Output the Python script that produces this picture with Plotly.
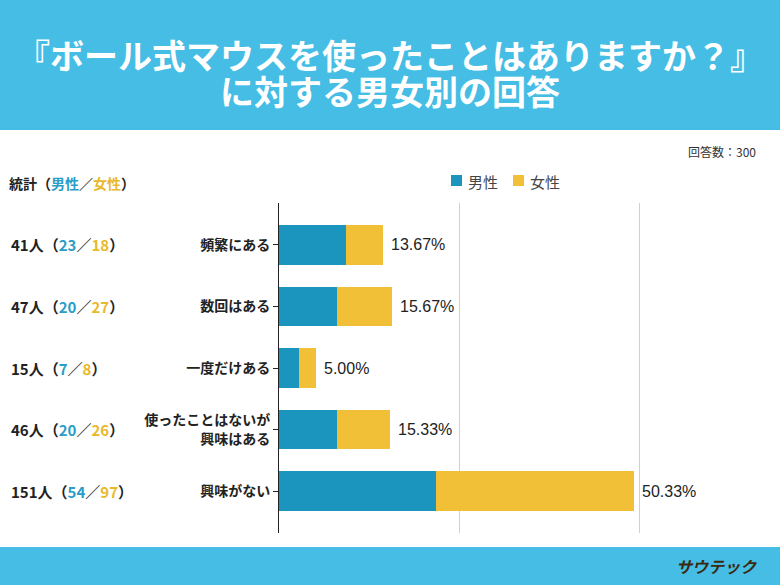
import plotly.graph_objects as go

# ---- data ----
categories = ["頻繁にある", "数回はある", "一度だけある", "使ったことはないが<br>興味はある", "興味がない"]
male_counts = [23, 20, 7, 20, 54]
female_counts = [18, 27, 8, 26, 97]
total_counts = [41, 47, 15, 46, 151]
total_labels = ["13.67%", "15.67%", "5.00%", "15.33%", "50.33%"]
respondents = 300
title_lines = ["『ボール式マウスを使ったことはありますか？』", "に対する男女別の回答"]

male_total = sum(male_counts)
female_total = sum(female_counts)
male_pct = [c / male_total * 100 for c in male_counts]
female_pct = [c / female_total * 100 for c in female_counts]

BLUE = "#1B95BD"
YELLOW = "#F2C036"
BAND = "#45BDE4"
JP = "Noto Sans CJK JP"

# pixel geometry helpers
W, H = 780, 585
L, R, T, B = 279, 20, 203, 52
PW, PH = W - L - R, H - T - B


def px_x(x):
    return (x - L) / PW


def px_y(y):
    return (H - B - y) / PH


fig = go.Figure()
fig.add_trace(go.Bar(y=categories, x=male_pct, name="男性", orientation="h",
                     marker=dict(color=BLUE, line=dict(width=0)), showlegend=False))
fig.add_trace(go.Bar(y=categories, x=female_pct, name="女性", orientation="h",
                     marker=dict(color=YELLOW, line=dict(width=0)), showlegend=False))

annotations = []
shapes = []

# percentage labels
for cat, m, f, lab in zip(categories, male_pct, female_pct, total_labels):
    annotations.append(dict(x=m + f, y=cat, xref="x", yref="y", text=lab, showarrow=False,
                            xanchor="left", xshift=6,
                            font=dict(family="Liberation Sans, Arial", size=16, color="#222")))

# stats column
for cat, t, m, f in zip(categories, total_counts, male_counts, female_counts):
    txt = (f"<b>{t}人（<span style='color:#2A9DC8'>{m}</span>／"
           f"<span style='color:#E9B92C'>{f}</span>）</b>")
    annotations.append(dict(x=px_x(9), y=cat, xref="paper", yref="y", text=txt, showarrow=False,
                            xanchor="left", font=dict(family=JP, size=15, color="#222")))

annotations.append(dict(x=px_x(7), y=px_y(183), xref="paper", yref="paper",
                        text="<b>統計（<span style='color:#2A9DC8'>男性</span>／"
                             "<span style='color:#E9B92C'>女性</span>）</b>",
                        showarrow=False, xanchor="left", yanchor="middle",
                        font=dict(family=JP, size=14, color="#222")))

# title (single text; line pitch from the 28px base font, glyphs at 34px)
title_txt = "<br>".join(f"<b><span style='font-size:34px'>{ln}</span></b>" for ln in title_lines)
annotations.append(dict(x=0.5, y=px_y(72), xref="paper", yref="paper", xanchor="center",
                        yanchor="middle", showarrow=False, xshift=(W / 2 - (L + PW / 2)),
                        text=title_txt, font=dict(family=JP, size=28, color="white")))

# respondents
annotations.append(dict(x=px_x(758), y=px_y(151), xref="paper", yref="paper", xanchor="right",
                        yanchor="middle", showarrow=False, text=f"回答数：{respondents}",
                        font=dict(family=JP, size=12, color="#333")))

# legend (manual)
for sx, col, name in [(451, BLUE, "男性"), (513, YELLOW, "女性")]:
    shapes.append(dict(type="rect", xref="paper", yref="paper", x0=px_x(sx), x1=px_x(sx + 11),
                       y0=px_y(186), y1=px_y(175), fillcolor=col, line=dict(width=0)))
    annotations.append(dict(x=px_x(sx + 15), y=px_y(181), xref="paper", yref="paper",
                            xanchor="left", yanchor="middle", showarrow=False, text=name,
                            font=dict(family=JP, size=15, color="#444")))

# bands
shapes.append(dict(type="rect", xref="paper", yref="paper", x0=-1, x1=2, y0=px_y(130), y1=px_y(-5),
                   fillcolor=BAND, line=dict(width=0), layer="below"))
shapes.append(dict(type="rect", xref="paper", yref="paper", x0=-1, x1=2, y0=px_y(590), y1=px_y(547),
                   fillcolor=BAND, line=dict(width=0), layer="below"))

# logo text
annotations.append(dict(x=px_x(716), y=px_y(566), xref="paper", yref="paper", xanchor="center",
                        yanchor="middle", showarrow=False, text="<b><i>サウテック</i></b>",
                        font=dict(family=JP, size=16, color="#3A2A10")))

fig.update_layout(
    width=W, height=H,
    margin=dict(l=L, r=R, t=T, b=B),
    paper_bgcolor="white", plot_bgcolor="white",
    barmode="stack", bargap=0.355,
    xaxis=dict(range=[0, PW / 3.6], tickvals=[50, 100], showticklabels=False,
               showgrid=True, gridcolor="#D0D0D0", gridwidth=1, zeroline=False,
               showline=False, fixedrange=True),
    yaxis=dict(categoryorder="array", categoryarray=categories,
               range=[len(categories) - 1 + 0.68, -0.68],
               showline=True, linecolor="#222", linewidth=1,
               ticks="outside", ticklen=5, tickcolor="#222",
               tickfont=dict(family=JP, size=14, color="#222"),
               showgrid=False, zeroline=False, fixedrange=True),
    annotations=annotations, shapes=shapes,
    font=dict(family=JP),
)
# bold tick labels
fig.update_yaxes(tickvals=categories, ticktext=[f"<b>{c}</b>" for c in categories])

fig.write_html("out.html", config={"displayModeBar": False},
               post_script="document.body.style.margin='0';document.body.style.overflow='hidden';")
